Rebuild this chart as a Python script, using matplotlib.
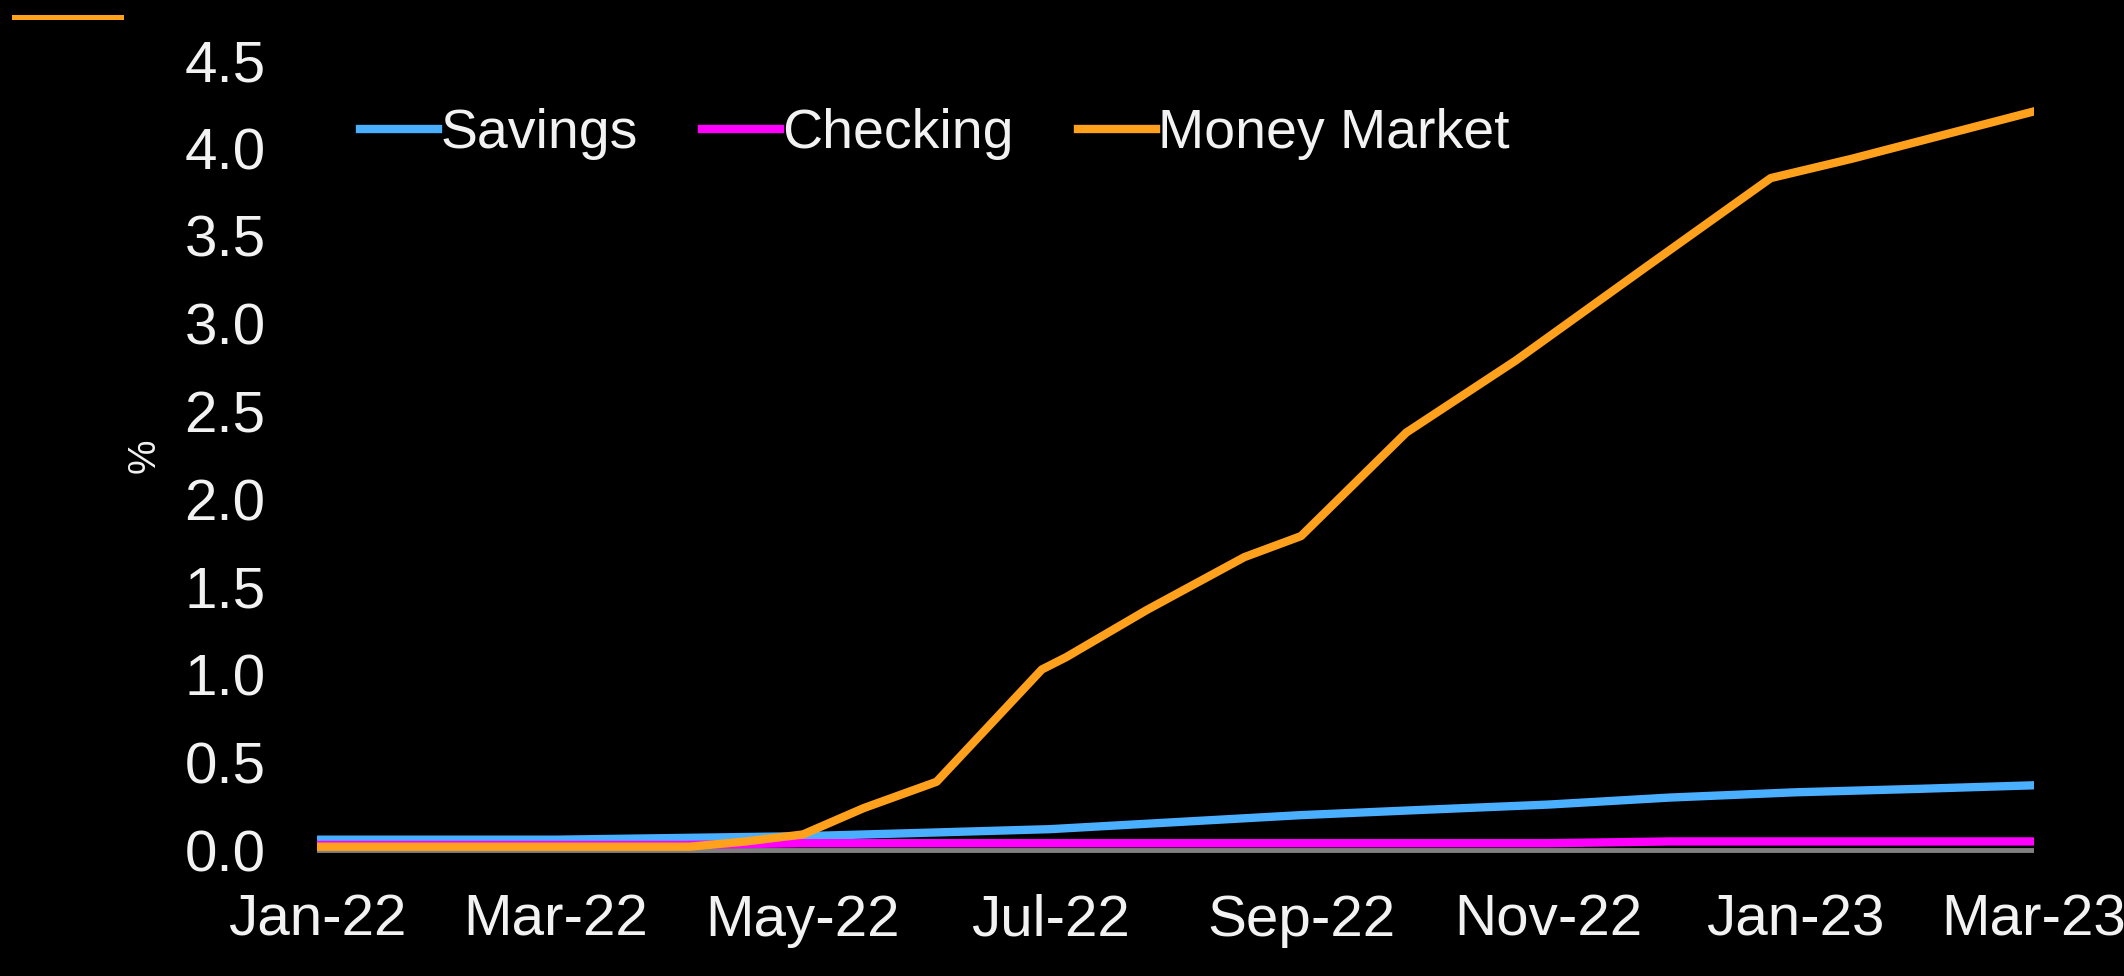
import matplotlib
matplotlib.use('Agg')
import matplotlib.pyplot as plt
import matplotlib.dates as mdates
from matplotlib import font_manager as fm
from matplotlib.lines import Line2D
import pandas as pd

# monthly deposit rates, Jan-22 .. Mar-23
months = pd.date_range('2022-01-01', '2023-03-01', freq='MS')
savings = [0.06, 0.06, 0.06, 0.07, 0.08, 0.10, 0.12, 0.16, 0.20, 0.23, 0.26, 0.30, 0.33, 0.35, 0.37]
checking = [0.03, 0.03, 0.03, 0.03, 0.04, 0.04, 0.04, 0.04, 0.04, 0.04, 0.04, 0.05, 0.05, 0.05, 0.05]

# money market yields (read at the bends of the line)
mm_dates = pd.to_datetime(['2022-01-01', '2022-04-03', '2022-04-17', '2022-05-01', '2022-05-16',
                           '2022-06-03', '2022-06-29', '2022-07-05', '2022-07-25', '2022-08-18',
                           '2022-09-01', '2022-09-27', '2022-10-24', '2022-11-25', '2022-12-26',
                           '2023-01-15', '2023-03-01'])
money_market = [0.02, 0.02, 0.05, 0.09, 0.24, 0.39, 1.03, 1.10, 1.37, 1.67,
                1.79, 2.38, 2.79, 3.32, 3.83, 3.94, 4.21]

yticks = [0.0, 0.5, 1.0, 1.5, 2.0, 2.5, 3.0, 3.5, 4.0, 4.5]

try:
    fm.findfont('Liberation Sans Narrow', fallback_to_default=False)
    FONT, SIZE, LEG = 'Liberation Sans Narrow', 46, 46
except ValueError:
    FONT, SIZE, LEG = 'Liberation Sans', 42, 40

plt.rcParams['font.family'] = [FONT, 'DejaVu Sans']
TXT = '#f2f2f2'

fig = plt.figure(figsize=(21.24, 9.76), dpi=100, facecolor='black')
ax = fig.add_axes([317 / 2124, 0.1055, (2034 - 317) / 2124, 0.8541], facecolor='black')

ax.axhline(0, color='#808080', lw=3.5, zorder=1)
ax.plot(months, savings, color='#4AAFFF', lw=6, label='Savings', zorder=2)
ax.plot(months, checking, color='#FF00FF', lw=6, label='Checking', zorder=3)
ax.plot(mm_dates, money_market, color='#FFA11C', lw=6, label='Money Market', zorder=4)

ax.set_xlim(pd.Timestamp('2022-01-01'), pd.Timestamp('2023-03-01'))
ax.set_ylim(-0.13, 4.62)
ax.set_yticks(yticks)
ax.yaxis.set_major_formatter(matplotlib.ticker.FormatStrFormatter('%.1f'))
ax.xaxis.set_major_locator(mdates.MonthLocator(bymonth=[1, 3, 5, 7, 9, 11]))
ax.xaxis.set_major_formatter(mdates.DateFormatter('%b-%y'))

for s in ax.spines.values():
    s.set_visible(False)
ax.tick_params(axis='both', length=0, colors=TXT, labelsize=SIZE)
ax.tick_params(axis='y', pad=37)
ax.tick_params(axis='x', pad=15)

ax.set_ylabel('%', color=TXT, fontsize=28, labelpad=16)

leg = ax.legend(loc='center left', bbox_to_anchor=(360 / 2124, 1 - 134 / 976),
                bbox_transform=fig.transFigure, ncol=3, frameon=False,
                fontsize=LEG, handlelength=1.4, handletextpad=0.05,
                columnspacing=1.15, borderpad=0, borderaxespad=0)
for t in leg.get_texts():
    t.set_color(TXT)

# small orange mark in the top-left corner
fig.add_artist(Line2D([14 / 2124, 121 / 2124], [1 - 16.5 / 976, 1 - 16.5 / 976],
                      transform=fig.transFigure, color='#FFA11C', lw=3.6))

fig.savefig('out.png', dpi=100, facecolor='black')
